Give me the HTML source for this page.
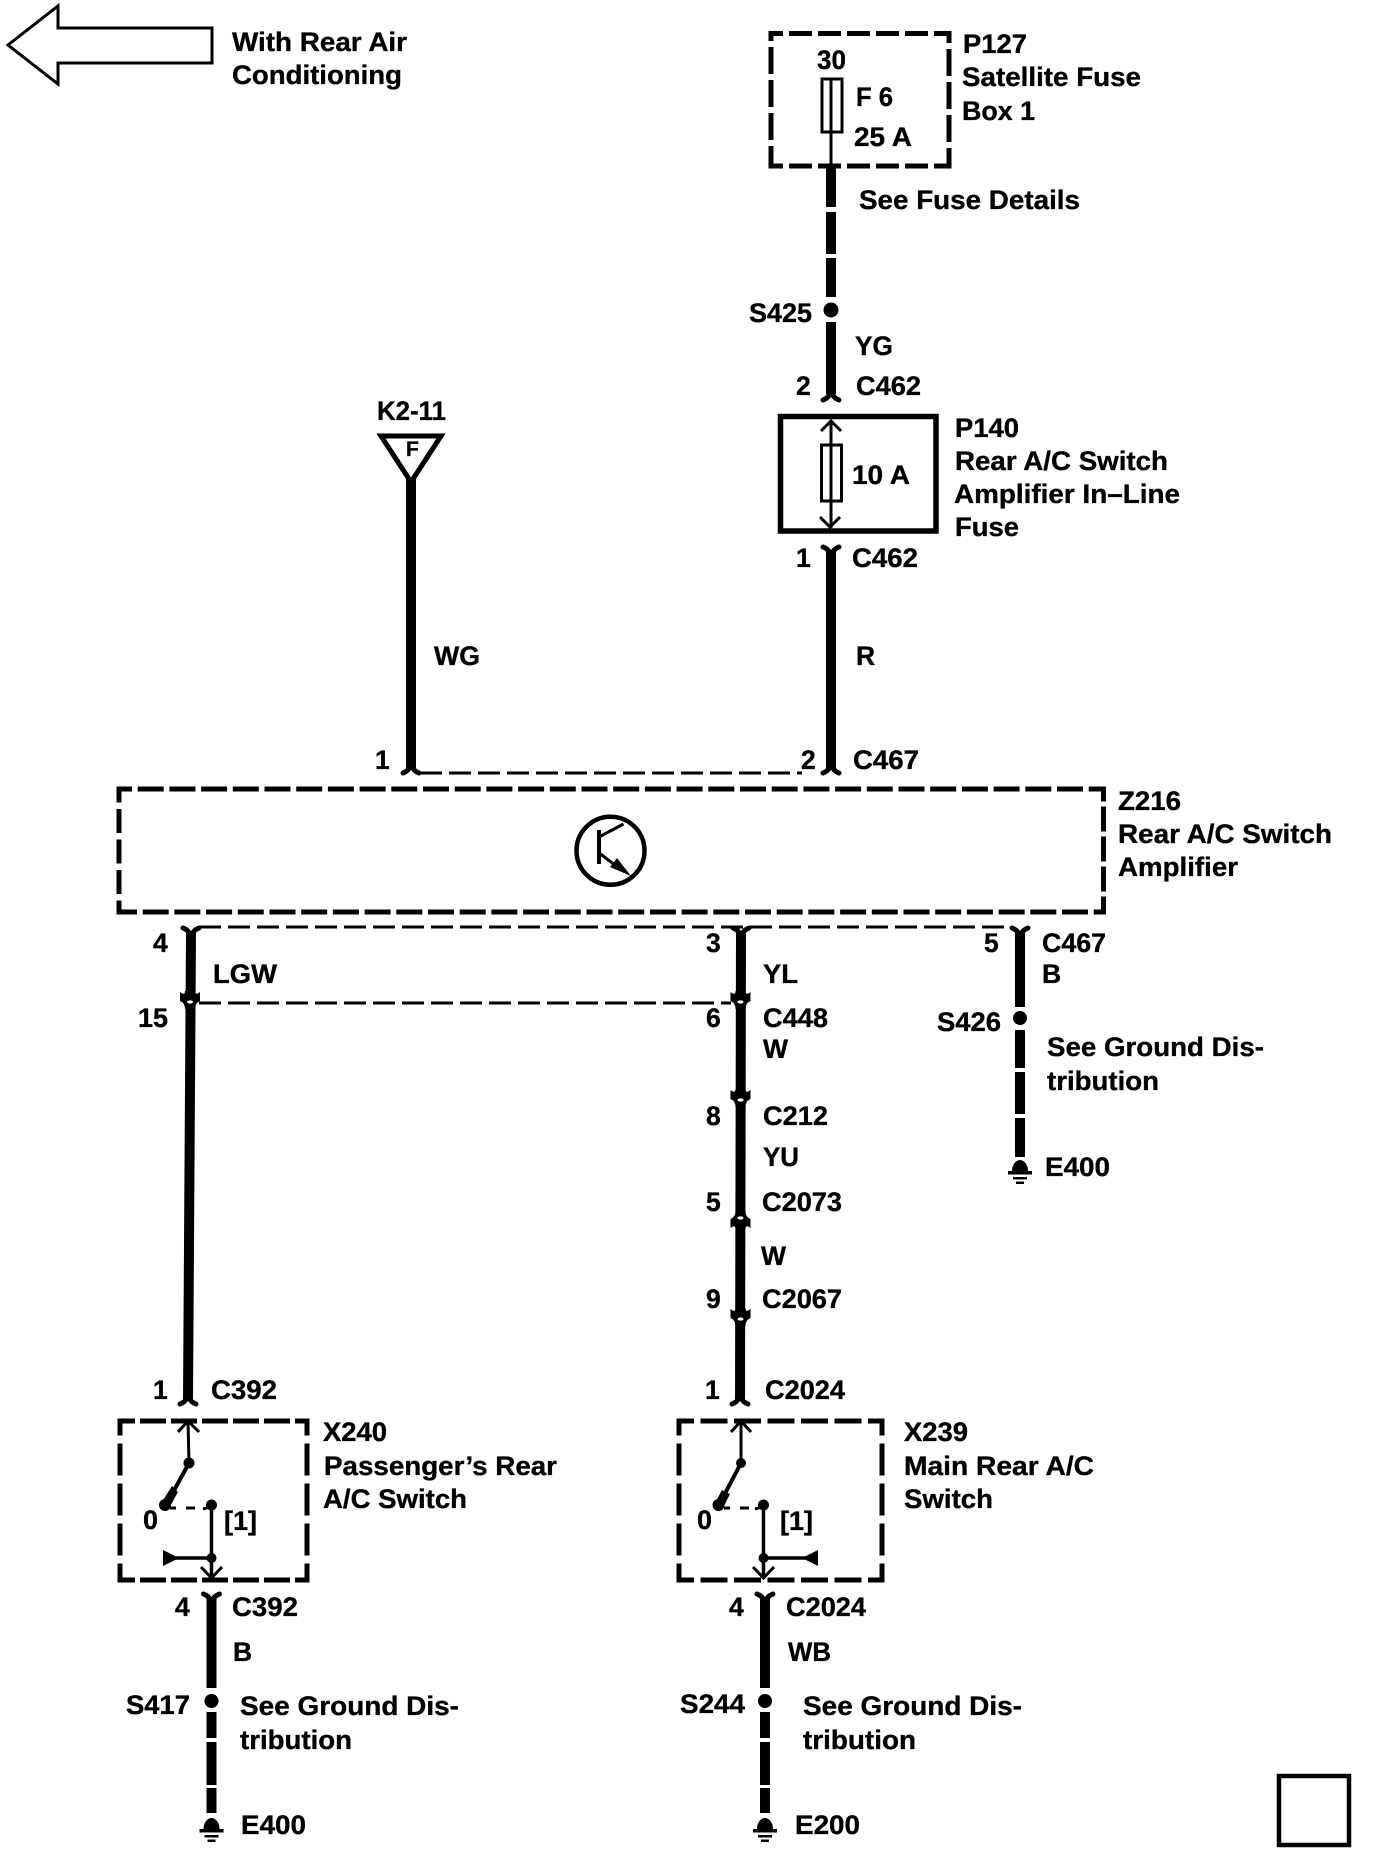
<!DOCTYPE html>
<html><head><meta charset="utf-8"><style>
html,body{margin:0;padding:0;background:#fff}
svg{display:block}
text{font-family:"Liberation Sans",sans-serif;font-weight:700;font-size:26.5px;fill:#000;stroke:#000;stroke-width:.35px;transform:translateX(-1px)}
.w{stroke:#000;stroke-width:10;fill:none}
.t{stroke:#000;stroke-width:3;fill:none}
.d{stroke:#000;stroke-width:5;fill:none}
.f{stroke:#000;stroke-width:5;fill:none;stroke-linecap:round;stroke-linejoin:round}
</style></head><body>
<svg width="1376" height="1854" viewBox="0 0 1376 1854" xmlns="http://www.w3.org/2000/svg">
<defs>
<g id="fd"><path class="f" d="M-8,-1 Q-2,-3 0,-10 Q2,-3 8,-1"/></g>
<g id="fu"><path class="f" d="M-8,1 Q-2,3 0,10 Q2,3 8,1"/></g>
<g id="gnd"><path d="M-8,11 A8,11 0 0 1 8,11 Z" fill="#000"/><rect x="-12" y="11" width="24" height="3.5" fill="#000"/><rect x="-7" y="17" width="14" height="2.5" fill="#000"/><rect x="-4" y="21.5" width="8" height="2.5" fill="#000"/></g>
<g id="dbl"><path d="M-10,-8 Q-5,-4 -5,-9 L5,-9 Q5,-4 10,-8 L10,1 Q5,3 5,9 L-5,9 Q-5,3 -10,1 Z" fill="#000"/><ellipse cx="0" cy="2" rx="3" ry="1.6" fill="#fff"/></g>
<g id="dblu"><path d="M-10,8 Q-5,4 -5,9 L5,9 Q5,4 10,8 L10,-1 Q5,-3 5,-9 L-5,-9 Q-5,-3 -10,-1 Z" fill="#000"/><ellipse cx="0" cy="-2" rx="3" ry="1.6" fill="#fff"/></g>
</defs>

<!-- top-left arrow -->
<polygon points="8,45 58,6 58,28 212,28 212,63 58,63 58,84" fill="#fff" stroke="#000" stroke-width="3"/>
<text x="233" y="51" textLength="175" lengthAdjust="spacingAndGlyphs">With Rear Air</text>
<text x="233" y="84" textLength="170" lengthAdjust="spacingAndGlyphs">Conditioning</text>

<!-- K2-11 -->
<text x="378" y="420" textLength="69" lengthAdjust="spacingAndGlyphs">K2-11</text>
<polygon points="381,436 441,436 411,482" fill="#fff" stroke="#000" stroke-width="5"/>
<text x="407" y="456" style="font-size:21px">F</text>
<line class="w" x1="411" y1="478" x2="411" y2="770"/>
<use href="#fd" x="411" y="774"/>
<text x="376" y="769">1</text>
<text x="435" y="665" textLength="46" lengthAdjust="spacingAndGlyphs">WG</text>

<!-- P127 -->
<line class="d" x1="771" y1="33.5" x2="949" y2="33.5" stroke-dasharray="23 6" stroke-dashoffset="11"/>
<line class="d" x1="771" y1="166" x2="949" y2="166" stroke-dasharray="23 6" stroke-dashoffset="11"/>
<line class="d" x1="771" y1="31" x2="771" y2="168.5" stroke-dasharray="27 6" stroke-dashoffset="17"/>
<line class="d" x1="949" y1="31" x2="949" y2="168.5" stroke-dasharray="27 6" stroke-dashoffset="15"/>
<rect class="t" x="822" y="79" width="20" height="53" fill="#fff"/>
<line class="t" x1="831" y1="79" x2="831" y2="166"/>
<text x="818" y="69" textLength="29" lengthAdjust="spacingAndGlyphs">30</text>
<text x="857" y="106" textLength="37" lengthAdjust="spacingAndGlyphs">F 6</text>
<text x="855" y="146" textLength="58" lengthAdjust="spacingAndGlyphs">25 A</text>
<text x="964" y="53" textLength="64" lengthAdjust="spacingAndGlyphs">P127</text>
<text x="963" y="86" textLength="179" lengthAdjust="spacingAndGlyphs">Satellite Fuse</text>
<text x="963" y="120" textLength="73" lengthAdjust="spacingAndGlyphs">Box 1</text>
<line class="w" x1="831" y1="166" x2="831" y2="207"/>
<line class="w" x1="831" y1="212" x2="831" y2="254"/>
<line class="w" x1="831" y1="258" x2="831" y2="297"/>
<circle cx="831" cy="310" r="7.5" fill="#000"/>
<line class="w" x1="831" y1="322" x2="831" y2="394"/>
<use href="#fd" x="831" y="401"/>
<text x="860" y="209" textLength="221" lengthAdjust="spacingAndGlyphs">See Fuse Details</text>
<text x="750" y="322" textLength="63" lengthAdjust="spacingAndGlyphs">S425</text>
<text x="856" y="355" textLength="38" lengthAdjust="spacingAndGlyphs">YG</text>
<text x="797" y="395">2</text>
<text x="857" y="395" textLength="65" lengthAdjust="spacingAndGlyphs">C462</text>

<!-- P140 -->
<rect x="780.5" y="416.5" width="155.5" height="114.5" fill="#fff" stroke="#000" stroke-width="5.5"/>
<line class="t" x1="831" y1="421" x2="831" y2="528"/>
<rect class="t" x="821.5" y="445" width="20" height="56" fill="#fff"/>
<line class="t" x1="831" y1="445" x2="831" y2="501"/>
<path class="t" d="M821,431 L831,421 L841,431 M820,517 L830,527 L840,517"/>
<text x="853" y="484" textLength="58" lengthAdjust="spacingAndGlyphs">10 A</text>
<text x="956" y="437" textLength="64" lengthAdjust="spacingAndGlyphs">P140</text>
<text x="956" y="470" textLength="213" lengthAdjust="spacingAndGlyphs">Rear A/C Switch</text>
<text x="955" y="503" textLength="226" lengthAdjust="spacingAndGlyphs">Amplifier In–Line</text>
<text x="956" y="536" textLength="64" lengthAdjust="spacingAndGlyphs">Fuse</text>
<use href="#fu" x="831" y="546"/>
<line class="w" x1="831" y1="552" x2="831" y2="770"/>
<use href="#fd" x="831" y="774"/>
<text x="797" y="567">1</text>
<text x="853" y="567" textLength="66" lengthAdjust="spacingAndGlyphs">C462</text>
<text x="857" y="665">R</text>
<text x="802" y="769">2</text>
<text x="854" y="769" textLength="66" lengthAdjust="spacingAndGlyphs">C467</text>

<!-- thin link top -->
<line class="t" x1="420" y1="773" x2="802" y2="773" stroke-dasharray="22 7"/>

<!-- Z216 -->
<line class="d" x1="119" y1="789" x2="1103.5" y2="789" stroke-dasharray="26 5.7" stroke-dashoffset="13"/>
<line class="d" x1="119" y1="912" x2="1103.5" y2="912" stroke-dasharray="26 5.7" stroke-dashoffset="8"/>
<line class="d" x1="119" y1="786.5" x2="119" y2="914.5" stroke-dasharray="24 6.5" stroke-dashoffset="8"/>
<line class="d" x1="1103.5" y1="786.5" x2="1103.5" y2="914.5" stroke-dasharray="25 5" stroke-dashoffset="10"/>
<circle cx="610.5" cy="850.7" r="34" fill="#fff" stroke="#000" stroke-width="4.5"/>
<line x1="599" y1="830" x2="599" y2="864" stroke="#000" stroke-width="4"/>
<line x1="599" y1="837" x2="623.5" y2="824" stroke="#000" stroke-width="3"/>
<line x1="599" y1="853" x2="615" y2="865" stroke="#000" stroke-width="3"/>
<polygon points="631,876 617,858 610,867" fill="#000"/>
<text x="1119" y="810" textLength="63" lengthAdjust="spacingAndGlyphs">Z216</text>
<text x="1119" y="843" textLength="214" lengthAdjust="spacingAndGlyphs">Rear A/C Switch</text>
<text x="1119" y="876" textLength="120" lengthAdjust="spacingAndGlyphs">Amplifier</text>

<!-- links below -->
<line class="t" x1="199" y1="927" x2="1012" y2="927" stroke-dasharray="22 7"/>
<line class="t" x1="199" y1="1003" x2="731" y2="1003" stroke-dasharray="22 7"/>

<!-- left wire -->
<use href="#fu" x="191" y="927"/>
<line class="w" x1="191" y1="932" x2="188" y2="1400"/>
<use href="#dbl" x="190" y="1000"/>
<use href="#fd" x="188" y="1405"/>
<text x="154" y="952">4</text>
<text x="214" y="983" textLength="64" lengthAdjust="spacingAndGlyphs">LGW</text>
<text x="139" y="1027" textLength="30" lengthAdjust="spacingAndGlyphs">15</text>
<text x="154" y="1399">1</text>
<text x="212" y="1399" textLength="66" lengthAdjust="spacingAndGlyphs">C392</text>

<!-- middle wire -->
<use href="#fu" x="741" y="927"/>
<line class="w" x1="741" y1="932" x2="740" y2="1400"/>
<use href="#dbl" x="740.5" y="1000"/>
<use href="#dbl" x="740.5" y="1098"/>
<use href="#dblu" x="740.5" y="1220"/>
<use href="#dbl" x="740.5" y="1317"/>
<use href="#fd" x="740" y="1405"/>
<text x="707" y="952">3</text>
<text x="764" y="983" textLength="35" lengthAdjust="spacingAndGlyphs">YL</text>
<text x="707" y="1027">6</text>
<text x="764" y="1027" textLength="65" lengthAdjust="spacingAndGlyphs">C448</text>
<text x="764" y="1058">W</text>
<text x="707" y="1125">8</text>
<text x="764" y="1125" textLength="65" lengthAdjust="spacingAndGlyphs">C212</text>
<text x="764" y="1166" textLength="36" lengthAdjust="spacingAndGlyphs">YU</text>
<text x="707" y="1211">5</text>
<text x="763" y="1211" textLength="80" lengthAdjust="spacingAndGlyphs">C2073</text>
<text x="762" y="1265">W</text>
<text x="707" y="1308">9</text>
<text x="763" y="1308" textLength="80" lengthAdjust="spacingAndGlyphs">C2067</text>
<text x="706" y="1399">1</text>
<text x="766" y="1399" textLength="80" lengthAdjust="spacingAndGlyphs">C2024</text>

<!-- right wire -->
<use href="#fu" x="1020" y="927"/>
<line class="w" x1="1020" y1="932" x2="1020" y2="1007"/>
<circle cx="1020" cy="1018" r="7" fill="#000"/>
<line class="w" x1="1020" y1="1030" x2="1020" y2="1068"/>
<line class="w" x1="1020" y1="1072" x2="1020" y2="1114"/>
<line class="w" x1="1020" y1="1118" x2="1020" y2="1157"/>
<use href="#gnd" x="1020" y="1160"/>
<text x="985" y="952">5</text>
<text x="1043" y="952" textLength="64" lengthAdjust="spacingAndGlyphs">C467</text>
<text x="1043" y="983">B</text>
<text x="938" y="1031" textLength="64" lengthAdjust="spacingAndGlyphs">S426</text>
<text x="1048" y="1056" textLength="217" lengthAdjust="spacingAndGlyphs">See Ground Dis-</text>
<text x="1048" y="1090" textLength="112" lengthAdjust="spacingAndGlyphs">tribution</text>
<text x="1046" y="1176" textLength="65" lengthAdjust="spacingAndGlyphs">E400</text>

<!-- X240 -->
<line class="d" x1="120" y1="1421" x2="307" y2="1421" stroke-dasharray="26 5" stroke-dashoffset="11"/>
<line class="d" x1="120" y1="1580" x2="307" y2="1580" stroke-dasharray="26 5" stroke-dashoffset="11"/>
<line class="d" x1="120" y1="1418.5" x2="120" y2="1582.5" stroke-dasharray="32 8" stroke-dashoffset="15"/>
<line class="d" x1="307" y1="1418.5" x2="307" y2="1582.5" stroke-dasharray="32 8" stroke-dashoffset="15"/>
<line class="t" x1="188" y1="1421" x2="189" y2="1463"/>
<path class="t" d="M178,1432 L188,1421 L199,1432"/>
<circle cx="189" cy="1463" r="5.5" fill="#000"/>
<path d="M189,1463 L166,1505" stroke="#000" stroke-width="4" fill="none"/>
<polygon points="172,1486 178,1492 168,1510 160,1505" fill="#000"/>
<circle cx="165" cy="1505" r="6" fill="#000"/>
<line class="t" x1="170" y1="1508" x2="211" y2="1508" stroke-dasharray="6 10 9 30"/>
<circle cx="211.5" cy="1505" r="5.5" fill="#000"/>
<path d="M203,1509 Q208,1508 211.5,1505" stroke="#000" stroke-width="3" fill="none"/>
<line x1="211.5" y1="1505" x2="211.5" y2="1578" stroke="#000" stroke-width="3.5"/>
<line x1="163" y1="1558" x2="211" y2="1558" stroke="#000" stroke-width="3.5"/>
<polygon points="163,1550 163,1566 179,1558" fill="#000"/>
<circle cx="211.5" cy="1558" r="5" fill="#000"/>
<path class="t" d="M201,1567 L211.5,1578 L222,1567"/>
<text x="144" y="1529" textLength="15" lengthAdjust="spacingAndGlyphs">0</text>
<text x="225" y="1530" textLength="33" lengthAdjust="spacingAndGlyphs">[1]</text>
<text x="324" y="1441" textLength="64" lengthAdjust="spacingAndGlyphs">X240</text>
<text x="325" y="1475" textLength="233" lengthAdjust="spacingAndGlyphs">Passenger’s Rear</text>
<text x="324" y="1508" textLength="144" lengthAdjust="spacingAndGlyphs">A/C Switch</text>

<use href="#fu" x="211.5" y="1593"/>
<line class="w" x1="211.5" y1="1598" x2="211.5" y2="1688"/>
<circle cx="211.5" cy="1701" r="7" fill="#000"/>
<line class="w" x1="211.5" y1="1712" x2="211.5" y2="1738"/>
<line class="w" x1="211.5" y1="1742" x2="211.5" y2="1785"/>
<line class="w" x1="211.5" y1="1788" x2="211.5" y2="1813"/>
<use href="#gnd" x="211.5" y="1818"/>
<text x="176" y="1616">4</text>
<text x="233" y="1616" textLength="66" lengthAdjust="spacingAndGlyphs">C392</text>
<text x="234" y="1661">B</text>
<text x="127" y="1714" textLength="64" lengthAdjust="spacingAndGlyphs">S417</text>
<text x="241" y="1715" textLength="219" lengthAdjust="spacingAndGlyphs">See Ground Dis-</text>
<text x="241" y="1749" textLength="112" lengthAdjust="spacingAndGlyphs">tribution</text>
<text x="242" y="1834" textLength="65" lengthAdjust="spacingAndGlyphs">E400</text>

<!-- X239 -->
<line class="d" x1="679" y1="1421" x2="882" y2="1421" stroke-dasharray="27 6.5" stroke-dashoffset="12"/>
<line class="d" x1="679" y1="1580" x2="882" y2="1580" stroke-dasharray="27 6.5" stroke-dashoffset="12"/>
<line class="d" x1="679" y1="1418.5" x2="679" y2="1582.5" stroke-dasharray="32 8" stroke-dashoffset="15"/>
<line class="d" x1="882" y1="1418.5" x2="882" y2="1582.5" stroke-dasharray="32 8" stroke-dashoffset="15"/>
<line class="t" x1="741" y1="1421" x2="741" y2="1463"/>
<path class="t" d="M731,1432 L741,1421 L751,1432"/>
<circle cx="741" cy="1463" r="5" fill="#000"/>
<line x1="741" y1="1463" x2="719" y2="1505" stroke="#000" stroke-width="4"/>
<polygon points="722,1490 730,1494 722,1510 714,1505" fill="#000"/>
<circle cx="718.5" cy="1505" r="6" fill="#000"/>
<line class="t" x1="724" y1="1508" x2="763" y2="1508" stroke-dasharray="6 10 9 30"/>
<circle cx="763.5" cy="1505" r="5.5" fill="#000"/>
<path d="M755,1509 Q760,1508 763.5,1505" stroke="#000" stroke-width="3" fill="none"/>
<line x1="763.5" y1="1505" x2="763.5" y2="1578" stroke="#000" stroke-width="3.5"/>
<line x1="763.5" y1="1558" x2="817" y2="1558" stroke="#000" stroke-width="3.5"/>
<polygon points="818,1550 818,1566 802,1558" fill="#000"/>
<circle cx="763.5" cy="1558" r="5" fill="#000"/>
<path class="t" d="M753,1567 L763.5,1578 L774,1567"/>
<text x="698" y="1529" textLength="15" lengthAdjust="spacingAndGlyphs">0</text>
<text x="781" y="1530" textLength="33" lengthAdjust="spacingAndGlyphs">[1]</text>
<text x="905" y="1441" textLength="64" lengthAdjust="spacingAndGlyphs">X239</text>
<text x="905" y="1475" textLength="190" lengthAdjust="spacingAndGlyphs">Main Rear A/C</text>
<text x="905" y="1508" textLength="89" lengthAdjust="spacingAndGlyphs">Switch</text>

<use href="#fu" x="765" y="1593"/>
<line class="w" x1="765" y1="1598" x2="765" y2="1688"/>
<circle cx="765" cy="1701" r="7" fill="#000"/>
<line class="w" x1="765" y1="1712" x2="765" y2="1738"/>
<line class="w" x1="765" y1="1742" x2="765" y2="1785"/>
<line class="w" x1="765" y1="1788" x2="765" y2="1813"/>
<use href="#gnd" x="765" y="1818"/>
<text x="730" y="1616">4</text>
<text x="787" y="1616" textLength="80" lengthAdjust="spacingAndGlyphs">C2024</text>
<text x="789" y="1661" textLength="43" lengthAdjust="spacingAndGlyphs">WB</text>
<text x="681" y="1713" textLength="65" lengthAdjust="spacingAndGlyphs">S244</text>
<text x="804" y="1715" textLength="219" lengthAdjust="spacingAndGlyphs">See Ground Dis-</text>
<text x="804" y="1749" textLength="113" lengthAdjust="spacingAndGlyphs">tribution</text>
<text x="796" y="1834" textLength="65" lengthAdjust="spacingAndGlyphs">E200</text>

<!-- square -->
<rect x="1279" y="1776" width="70" height="69" fill="none" stroke="#000" stroke-width="4.5"/>
</svg>
</body></html>
